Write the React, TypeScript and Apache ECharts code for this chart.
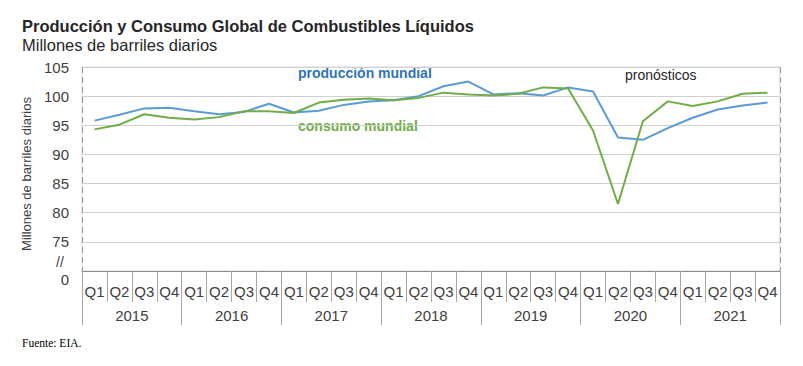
import React, { useEffect, useRef } from "react";
import * as echarts from "echarts";

const years = ["2015", "2016", "2017", "2018", "2019", "2020", "2021"];
const quarterNames = ["Q1", "Q2", "Q3", "Q4"];
const produccion = [95.8, 96.8, 97.9, 98.0, 97.4, 96.9, 97.3, 98.7, 97.2, 97.5, 98.5, 99.1, 99.3, 100.0, 101.7, 102.5, 100.3, 100.5, 100.1, 101.5, 100.8, 92.9, 92.5, 94.5, 96.3, 97.7, 98.4, 98.9];
const consumo = [94.3, 95.1, 96.9, 96.3, 96.0, 96.4, 97.4, 97.4, 97.1, 98.9, 99.4, 99.6, 99.3, 99.7, 100.6, 100.3, 100.1, 100.4, 101.5, 101.3, 94.1, 81.5, 95.7, 99.1, 98.3, 99.1, 100.4, 100.6];
const forecastStartIndex = 21; // 2020 Q2
const yTicks = { min: 70, max: 105, interval: 5 };

const FONT = "'Liberation Sans', Arial, sans-serif";

export default function App() {
  const ref = useRef<HTMLDivElement>(null);
  useEffect(() => {
    if (!ref.current) return;
    const chart = echarts.init(ref.current, null, { renderer: "svg" });
    const quarters: string[] = [];
    years.forEach(() => quarterNames.forEach((q) => quarters.push(q)));
    chart.setOption({
      animation: false,
      textStyle: { fontFamily: FONT },
      title: [
        {
          text: "Producción y Consumo Global de Combustibles Líquidos",
          left: 22,
          top: 17,
          padding: 0,
          textStyle: { fontFamily: FONT, fontSize: 16.5, fontWeight: "bold", color: "#262626" },
        },
        {
          text: "Millones de barriles diarios",
          left: 22,
          top: 36,
          padding: 0,
          textStyle: { fontFamily: FONT, fontSize: 16.5, fontWeight: "normal", color: "#262626" },
        },
      ],
      grid: {
        left: 82,
        right: 23,
        top: 67,
        bottom: 95,
        show: true,
        borderColor: "#D9D9D9",
        borderWidth: 1,
      },
      xAxis: [
        {
          type: "category",
          data: quarters,
          boundaryGap: true,
          axisLine: { show: true, lineStyle: { color: "#8C8C8C", width: 1 } },
          axisTick: { show: true, length: 31, interval: 0, lineStyle: { color: "#A6A6A6" } },
          axisLabel: { interval: 0, margin: 13, fontSize: 15, color: "#404040", fontFamily: FONT },
          splitLine: {
            show: true,
            interval: (index: number) => index === forecastStartIndex,
            lineStyle: { color: "#999999", type: [6, 4], width: 1 },
          },
        },
        {
          type: "category",
          data: years,
          position: "bottom",
          boundaryGap: true,
          axisLine: { show: false },
          axisTick: { show: true, length: 54, interval: 0, lineStyle: { color: "#A6A6A6" } },
          axisLabel: { interval: 0, margin: 37, fontSize: 15, color: "#404040", fontFamily: FONT },
          splitLine: { show: false },
        },
      ],
      yAxis: {
        type: "value",
        min: yTicks.min,
        max: yTicks.max,
        interval: yTicks.interval,
        name: "Millones de barriles diarios",
        nameLocation: "middle",
        nameGap: 44,
        nameTextStyle: { fontSize: 13, color: "#404040", fontFamily: FONT, padding: [0, 10, 0, 0] },
        axisLine: { show: false },
        axisTick: { show: false },
        axisLabel: {
          fontSize: 15,
          margin: 13,
          color: "#404040",
          fontFamily: FONT,
          formatter: (v: number) => (v === yTicks.min ? "{z|0}" : String(v)),
          rich: { z: { fontSize: 15, color: "#404040", fontFamily: FONT, padding: [16, 0, 0, 0] } },
        },
        splitLine: { show: true, lineStyle: { color: "#D0D0D0", width: 1 } },
      },
      series: [
        {
          name: "producción mundial",
          type: "line",
          data: produccion,
          symbol: "none",
          lineStyle: { color: "#5B9BD5", width: 2 },
          itemStyle: { color: "#5B9BD5" },
          z: 3,
        },
        {
          name: "consumo mundial",
          type: "line",
          data: consumo,
          symbol: "none",
          lineStyle: { color: "#70AD47", width: 2 },
          itemStyle: { color: "#70AD47" },
          z: 4,
        },
      ],
      graphic: [
        {
          type: "text",
          left: 298,
          top: 66,
          style: { text: "producción mundial", fontFamily: FONT, fontSize: 14, fontWeight: "bold", fill: "#2E75B6" },
        },
        {
          type: "text",
          left: 298,
          top: 119,
          style: { text: "consumo mundial", fontFamily: FONT, fontSize: 14, fontWeight: "bold", fill: "#70AD47" },
        },
        {
          type: "text",
          left: 625,
          top: 68,
          style: { text: "pronósticos", fontFamily: FONT, fontSize: 14, fill: "#262626" },
        },
        {
          type: "text",
          left: 56,
          top: 255,
          style: { text: "//", fontFamily: FONT, fontSize: 14, fill: "#404040" },
        },
        {
          type: "text",
          left: 22,
          top: 337,
          style: { text: "Fuente: EIA.", fontFamily: "'Liberation Serif', 'Times New Roman', serif", fontSize: 11.5, fill: "#000000" },
        },
      ],
    });
    return () => chart.dispose();
  }, []);
  return (
    <div
      ref={ref}
      style={{ position: "fixed", left: 0, top: 0, width: 803, height: 366, background: "#ffffff" }}
    />
  );
}
